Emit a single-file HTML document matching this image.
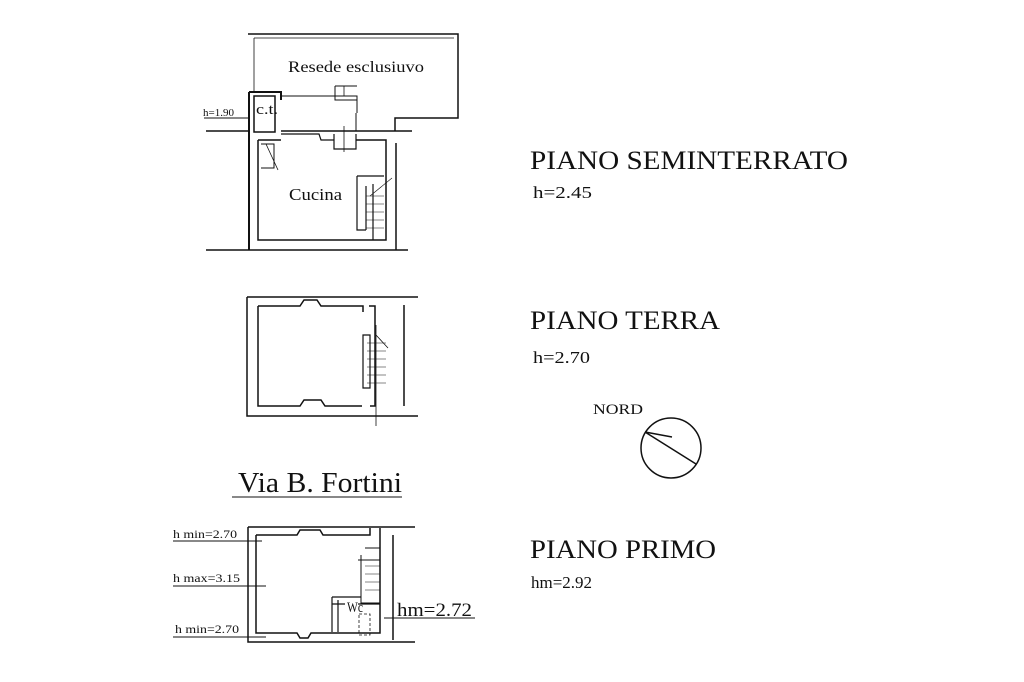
<!DOCTYPE html>
<html><head><meta charset="utf-8"><style>
html,body{margin:0;padding:0;background:#fff;}
svg{display:block}
text{font-family:"Liberation Serif",serif;fill:#111;stroke:none}
</style></head><body>
<svg width="1024" height="682" viewBox="0 0 1024 682" xmlns="http://www.w3.org/2000/svg" fill="none" stroke="#111">
<!-- SEMINTERRATO -->
<g stroke-width="1.2">
<path d="M248 34 H458 V118 H395 V131" stroke-width="1.5"/>
<path d="M254 38 H454" stroke-width="0.7"/>
<path d="M254 38 V92" stroke-width="0.8"/>
<path d="M206 131 H250 M281 131 H412" stroke-width="1.5"/>
<path d="M249 92 H281 V100 M249 92 V250" stroke-width="2"/>
<path d="M254 96 H275 V132 H254 Z" stroke-width="1.5"/>
<path d="M281 96 H357 V113 M335 86 H357 M335 86 V100 H357" stroke-width="1"/>
<path d="M356 113 V131" stroke-width="1"/>
<path d="M281 134 H304 M304 134 H319 L321 140 H334 M334 134 V149 H356 V134" stroke-width="1.2"/>
<path d="M258 140 V240 H386 V140 H356 M258 140 H281" stroke-width="1.5"/>
<path d="M261 144 H274 V168 H261" stroke-width="1"/>
<path d="M266 144 L278 170" stroke-width="0.8"/>
<path d="M357 176 H384 M357 176 V230 H366 M373 184 V240 M366 186 V230" stroke-width="1.2"/>
<path d="M366 196 H384 M366 204 H384 M366 212 H384 M366 220 H384 M366 228 H384" stroke-width="0.6"/>
<path d="M370 196 L392 178" stroke-width="0.6"/>
<path d="M344 126 V152 M344 86 V96" stroke-width="0.8"/>
<path d="M206 250 H408" stroke-width="1.5"/>
<path d="M396 143 V250" stroke-width="1.5"/>
<path d="M204 118 H250" stroke-width="1"/>
</g>
<text x="288" y="72" font-size="16" textLength="136" lengthAdjust="spacingAndGlyphs">Resede esclusiuvo</text>
<text x="256" y="114" font-size="15" textLength="22" lengthAdjust="spacingAndGlyphs">c.t.</text>
<text x="203" y="116" font-size="11" textLength="31" lengthAdjust="spacingAndGlyphs">h=1.90</text>
<text x="289" y="200" font-size="17" textLength="53" lengthAdjust="spacingAndGlyphs">Cucina</text>
<!-- TERRA -->
<g stroke-width="1.5">
<path d="M247 297 V416 H418 M247 297 H418"/>
<path d="M258 306 H300 L304 300 H317 L321 306 H363 V312 M369 306 H375 V406 H370 M362 406 H325 L321 400 H304 L300 406 H258 V306"/>
<path d="M363 335 H370 V388 H363 Z" stroke-width="1.2"/>
<path d="M367 343 H386 M367 351 H386 M367 359 H386 M367 367 H386 M367 375 H386 M367 383 H386" stroke-width="0.6"/>
<path d="M376 325 V426 M376 335 L388 348" stroke-width="0.8"/>
<path d="M404 305 V406"/>
</g>
<!-- Via -->
<text x="238" y="492" font-size="28" textLength="164" lengthAdjust="spacingAndGlyphs">Via B. Fortini</text>
<path d="M232 497 H402" stroke-width="1"/>
<!-- PRIMO -->
<g stroke-width="1.5">
<path d="M248 527 V642 H415 M248 527 H415"/>
<path d="M256 535 H297 L300 530 H320 L323 535 H370 V528 M380 528 V633 H311 L308 638 H300 L297 633 H256 V535"/>
<path d="M365 548 H380 M358 560 H380 M361 555 V603 H380" stroke-width="1"/>
<path d="M365 566 H380 M365 574 H380 M365 582 H380 M365 590 H380" stroke-width="0.6"/>
<path d="M332 597 H361 M332 597 V632 M338 600 V632 M332 604 H345 M358 604 H380" stroke-width="1.2"/>
<path d="M359 614 H370 V635 H359 Z" stroke-width="0.8" stroke-dasharray="3 2"/>
<path d="M393 535 V640"/>
<path d="M173 541 H262 M173 586 H266 M173 637 H266 M384 618 H475" stroke-width="1"/>
</g>
<text x="173" y="538" font-size="12" textLength="64" lengthAdjust="spacingAndGlyphs">h min=2.70</text>
<text x="173" y="582" font-size="12" textLength="67" lengthAdjust="spacingAndGlyphs">h max=3.15</text>
<text x="175" y="633" font-size="12" textLength="64" lengthAdjust="spacingAndGlyphs">h min=2.70</text>
<text x="347" y="612" font-size="15" textLength="16" lengthAdjust="spacingAndGlyphs">Wc</text>
<text x="397" y="616" font-size="19" textLength="75" lengthAdjust="spacingAndGlyphs">hm=2.72</text>
<!-- right side titles -->
<text x="530" y="169" font-size="26" textLength="318" lengthAdjust="spacingAndGlyphs">PIANO SEMINTERRATO</text>
<text x="533" y="198" font-size="17" textLength="59" lengthAdjust="spacingAndGlyphs">h=2.45</text>
<text x="530" y="329" font-size="26" textLength="190" lengthAdjust="spacingAndGlyphs">PIANO TERRA</text>
<text x="533" y="363" font-size="17" textLength="57" lengthAdjust="spacingAndGlyphs">h=2.70</text>
<text x="593" y="414" font-size="15" textLength="50" lengthAdjust="spacingAndGlyphs">NORD</text>
<circle cx="671" cy="448" r="30" stroke-width="1.5"/>
<path d="M645 432 L696 464 M645 432 L672 437" stroke-width="1.5"/>
<text x="530" y="558" font-size="26" textLength="186" lengthAdjust="spacingAndGlyphs">PIANO PRIMO</text>
<text x="531" y="588" font-size="17" textLength="61" lengthAdjust="spacingAndGlyphs">hm=2.92</text>
</svg>
</body></html>
